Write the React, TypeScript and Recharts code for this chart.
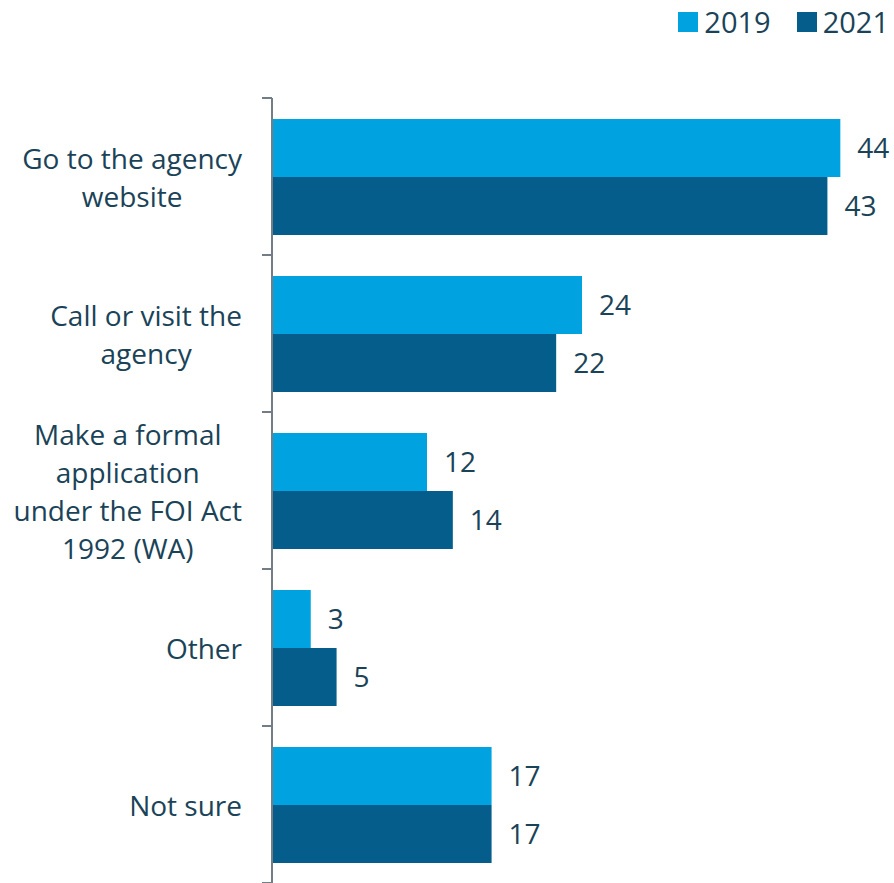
import { Bar, BarChart, LabelList, Legend, XAxis, YAxis } from "recharts"

const categories = [
  "Go to the agency\nwebsite",
  "Call or visit the\nagency",
  "Make a formal\napplication\nunder the FOI Act\n1992 (WA)",
  "Other",
  "Not sure",
]
const values2019 = [44, 24, 12, 3, 17]
const values2021 = [43, 22, 14, 5, 17]
const seriesNames = ["2019", "2021"]
const seriesColors = ["#00a3e0", "#055d8b"]

const data = categories.map((name, i) => ({
  name,
  v2019: values2019[i],
  v2021: values2021[i],
}))

const textColor = "#1a4358"
const axisColor = "#737d86"
const font = "'Open Sans', sans-serif"
const tickFontSize = 28
const lineHeight = 38

let ctx: CanvasRenderingContext2D | null = null
function measure(text: string) {
  if (!ctx) ctx = document.createElement("canvas").getContext("2d")
  if (!ctx) return text.length * tickFontSize * 0.52
  ctx.font = `${tickFontSize}px 'Open Sans'`
  return ctx.measureText(text).width
}

function CategoryTick(props: any) {
  const { x, y, payload, index } = props
  const lines = String(payload.value).split("\n")
  const half = payload.offset || 78.5
  const maxW = Math.max(...lines.map(measure))
  const cx = x - maxW / 2
  const y0 = y - ((lines.length - 1) * lineHeight) / 2
  const axisX = x + 30
  return (
    <g>
      <line x1={axisX - 10} x2={axisX} y1={y - half} y2={y - half} stroke={axisColor} strokeWidth={2} />
      {index === categories.length - 1 && (
        <line x1={axisX - 10} x2={axisX} y1={y + half} y2={y + half} stroke={axisColor} strokeWidth={2} />
      )}
      {lines.map((line, i) => (
        <text
          key={i}
          x={cx}
          y={y0 + i * lineHeight}
          textAnchor="middle"
          dominantBaseline="central"
          fill={textColor}
          fontSize={tickFontSize}
          fontFamily={font}
        >
          {line}
        </text>
      ))}
    </g>
  )
}

function LegendContent() {
  return (
    <div style={{ display: "flex", alignItems: "center", fontFamily: font, fontSize: 29, color: textColor }}>
      {seriesNames.map((name, i) => (
        <div key={name} style={{ display: "flex", alignItems: "center", marginLeft: i === 0 ? 0 : 26 }}>
          <span style={{ width: 20, height: 20, background: seriesColors[i], marginRight: 6, display: "inline-block" }} />
          <span style={{ lineHeight: "32px" }}>{name}</span>
        </div>
      ))}
    </div>
  )
}

export default function App() {
  return (
    <>
      <style>{"body{margin:0}"}</style>
      <BarChart
        width={894}
        height={883}
        data={data}
        layout="vertical"
        margin={{ top: 98, right: 2, bottom: 0, left: 0 }}
        barCategoryGap={21}
        barGap={0}
      >
        <XAxis type="number" domain={[0, 48]} hide />
        <YAxis
          type="category"
          dataKey="name"
          width={272}
          tickSize={10}
          tickMargin={20}
          tickLine={false}
          axisLine={{ stroke: axisColor, strokeWidth: 2 }}
          tick={<CategoryTick />}
          interval={0}
        />
        <Legend
          verticalAlign="middle"
          align="center"
          content={<LegendContent />}
          wrapperStyle={{ top: 6, right: 5, left: "auto", width: "auto" }}
        />
        <Bar dataKey="v2019" name={seriesNames[0]} fill={seriesColors[0]} isAnimationActive={false}>
          <LabelList dataKey="v2019" position="right" offset={17} fill={textColor} fontSize={28} fontFamily={font} />
        </Bar>
        <Bar dataKey="v2021" name={seriesNames[1]} fill={seriesColors[1]} isAnimationActive={false}>
          <LabelList dataKey="v2021" position="right" offset={17} fill={textColor} fontSize={28} fontFamily={font} />
        </Bar>
      </BarChart>
    </>
  )
}
